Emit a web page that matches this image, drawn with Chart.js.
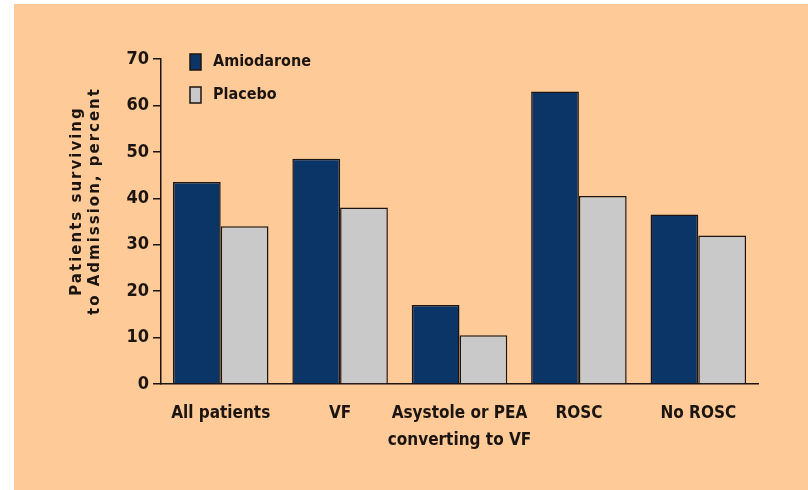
<!DOCTYPE html>
<html>
<head>
<meta charset="utf-8">
<script src="https://cdn.jsdelivr.net/npm/chart.js@4"></script>
<style>
  html, body { margin: 0; padding: 0; background: #ffffff; }
  #wrap { position: absolute; left: 14px; top: 4px; width: 794px; height: 486px; background: #fecb98; }
</style>
</head>
<body>
<div id="wrap"><canvas id="survivalChart" width="794" height="486"></canvas></div>
<script>
// chart values
const categories = ["All patients", "VF", ["Asystole or PEA", "converting to VF"], "ROSC", "No ROSC"];
const amiodarone = [43.5, 48.5, 17, 63, 36.5];
const placebo = [34, 38, 10.5, 40.5, 32];
const yTicks = [0, 10, 20, 30, 40, 50, 60, 70];
const yTitle = ["Patients surviving", "to Admission, percent"];

const navy = '#0b3467';
const grey = '#c9c9c9';
const ink = '#1c1410';
const font = "'Liberation Sans Narrow', 'DejaVu Sans Condensed', 'Roboto Condensed', Roboto, sans-serif";

// legend drawn in the top left corner of the plot
const cornerLegend = {
    id: 'cornerLegend',
    afterDraw(chart) {
        const ctx = chart.ctx;
        const area = chart.chartArea;
        ctx.save();
        chart.data.datasets.forEach((ds, i) => {
            const cy = area.top + 3 + i * 33;
            ctx.fillStyle = ds.backgroundColor;
            ctx.strokeStyle = ink;
            ctx.lineWidth = 1.5;
            ctx.fillRect(area.left + 29, cy - 8, 11, 16);
            ctx.strokeRect(area.left + 29, cy - 8, 11, 16);
            ctx.fillStyle = ink;
            ctx.font = "bold 16px " + font;
            ctx.textBaseline = 'middle';
            ctx.fillText(ds.label, area.left + 52, cy);
        });
        ctx.restore();
    }
};

// two line, letter spaced y axis title
const yAxisTitle = {
    id: 'yAxisTitle',
    afterDraw(chart) {
        const ctx = chart.ctx;
        const area = chart.chartArea;
        ctx.save();
        ctx.translate(0, area.top + 142);
        ctx.rotate(-Math.PI / 2);
        ctx.fillStyle = ink;
        ctx.font = "bold 15px 'DejaVu Sans', sans-serif";
        ctx.letterSpacing = '2px';
        ctx.textAlign = 'center';
        ctx.textBaseline = 'middle';
        ctx.fillText(yTitle[0], 0, 63);
        ctx.fillText(yTitle[1], 0, 81);
        ctx.restore();
    }
};

new Chart("survivalChart", {
    type: 'bar',
    data: {
        labels: categories,
        datasets: [{
            label: 'Amiodarone',
            data: amiodarone,
            backgroundColor: navy,
            borderColor: ink,
            borderWidth: 1.5,
            categoryPercentage: 0.8,
            barPercentage: 1.0,
        }, {
            label: 'Placebo',
            data: placebo,
            backgroundColor: grey,
            borderColor: ink,
            borderWidth: 1.5,
            categoryPercentage: 0.8,
            barPercentage: 1.0,
        }]
    },
    options: {
        responsive: false,
        animation: false,
        layout: { padding: { left: 0, top: 55, right: 50, bottom: 0 } },
        plugins: {
            legend: { display: false },
            tooltip: { enabled: false },
        },
        scales: {
            x: {
                grid: { display: false, drawTicks: false },
                border: { display: true, color: ink, width: 1.5 },
                ticks: {
                    color: ink,
                    padding: 16,
                    font: { family: font, size: 17, weight: 'bold', lineHeight: 1.6 },
                    maxRotation: 0,
                    autoSkip: false,
                },
                afterFit: (scale) => { scale.height = 106; },
            },
            y: {
                min: 0,
                max: 70,
                afterBuildTicks: (scale) => { scale.ticks = yTicks.map(v => ({ value: v })); },
                grid: { drawOnChartArea: false, tickLength: 8, color: ink, lineWidth: 1.5 },
                border: { display: true, color: ink, width: 1.5 },
                ticks: {
                    color: ink,
                    padding: 4,
                    font: { family: font, size: 18, weight: 'bold' },
                },
                afterFit: (scale) => { scale.width = 147; },
            }
        }
    },
    plugins: [cornerLegend, yAxisTitle]
});
</script>
</body>
</html>
